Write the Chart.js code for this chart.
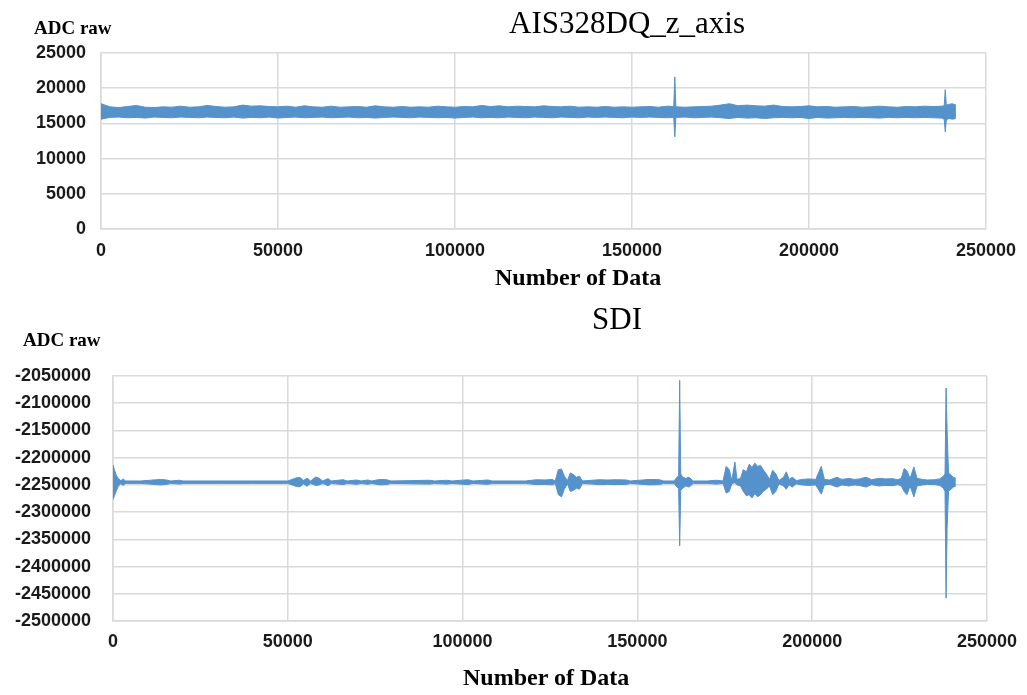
<!DOCTYPE html>
<html>
<head>
<meta charset="utf-8">
<script src="https://cdn.jsdelivr.net/npm/chart.js@4.4.0/dist/chart.umd.min.js"></script>
<style>
  body { margin: 0; background: #fff; width: 1027px; height: 695px; position: relative; overflow: hidden; }
  .box { position: absolute; left: 0; width: 1027px; }
  .t { position: absolute; font-family: "Liberation Serif", "Times New Roman", serif; color: #000; white-space: nowrap; line-height: 1; }
</style>
</head>
<body>
<div class="box" style="top:0;height:300px"><canvas id="accChart"></canvas></div>
<div class="box" style="top:300px;height:395px"><canvas id="sdiChart"></canvas></div>

<div class="t" style="left:34px;top:18px;font-size:19px;font-weight:bold">ADC raw</div>
<div class="t" style="left:627px;top:7px;font-size:31px;transform:translateX(-50%)">AIS328DQ_z_axis</div>
<div class="t" style="left:495px;top:265px;font-size:24px;font-weight:bold">Number of Data</div>

<div class="t" style="left:23px;top:330px;font-size:19px;font-weight:bold">ADC raw</div>
<div class="t" style="left:617px;top:303px;font-size:31px;transform:translateX(-50%)">SDI</div>
<div class="t" style="left:463px;top:665px;font-size:24px;font-weight:bold">Number of Data</div>

<script>
// min / max envelope of each chunk of samples
const accX = [0, 2500, 5000, 7500, 10000, 12500, 15000, 17500, 20000, 22500, 25000, 27500, 30000, 32500, 35000, 37500,
  40000, 42500, 45000, 47500, 50000, 52500, 55000, 57500, 60000, 62500, 65000, 67500, 70000, 72500, 75000, 77500,
  80000, 82500, 85000, 87500, 90000, 92500, 95000, 97500, 100000, 102500, 105000, 107500, 110000, 112500, 115000, 117500,
  120000, 122500, 125000, 127500, 130000, 132500, 135000, 137500, 140000, 142500, 145000, 147500, 150000, 152500, 155000, 157500,
  160000, 161800, 162100, 162400, 165000, 167500, 170000, 172500, 175000, 177500, 180000, 182500, 185000, 187500, 190000, 192500,
  195000, 197500, 200000, 202500, 205000, 207500, 210000, 212500, 215000, 217500, 220000, 222500, 225000, 227500, 230000, 232500,
  235000, 237500, 238200, 238500, 238800, 239500, 240500, 241500]
const accMax = [17800, 17350, 17250, 17400, 17550, 17300, 17250, 17350, 17300, 17450, 17300, 17350, 17550, 17400, 17300, 17350,
  17600, 17450, 17500, 17400, 17350, 17450, 17300, 17500, 17350, 17300, 17450, 17300, 17350, 17400, 17300, 17500,
  17350, 17300, 17400, 17300, 17350, 17300, 17450, 17350, 17300, 17400, 17350, 17550, 17400, 17500, 17350, 17450,
  17400, 17350, 17500, 17400, 17350, 17450, 17300, 17350, 17300, 17400, 17300, 17350, 17300, 17350, 17400, 17300,
  17450, 17400, 21600, 17350, 17300, 17350, 17400, 17450, 17600, 17800, 17500, 17600, 17500, 17450, 17600, 17400,
  17350, 17400, 17500, 17350, 17400, 17300, 17350, 17400, 17300, 17350, 17450, 17350, 17300, 17400, 17350, 17450,
  17400, 17450, 17500, 19800, 17600, 17700, 17800, 17600]
const accMin = [15600, 15850, 15900, 15800, 15850, 15750, 15900, 15850, 15800, 15900, 15850, 15800, 15900, 15850, 15800, 15900,
  15750, 15850, 15800, 15900, 15750, 15850, 15900, 15800, 15850, 15900, 15800, 15850, 15900, 15800, 15850, 15750,
  15850, 15900, 15850, 15800, 15900, 15850, 15800, 15850, 15750, 15850, 15900, 15800, 15850, 15800, 15900, 15850,
  15800, 15900, 15850, 15800, 15900, 15850, 15800, 15900, 15850, 15900, 15850, 15800, 15900, 15850, 15900, 15850,
  15800, 15850, 13100, 15850, 15900, 15800, 15850, 15900, 15800, 15700, 15850, 15750, 15800, 15700, 15800, 15850,
  15800, 15850, 15700, 15850, 15750, 15800, 15850, 15800, 15850, 15800, 15750, 15850, 15800, 15850, 15800, 15850,
  15800, 15750, 15600, 13800, 15500, 15700, 15600, 15700]

const sdiX = [0, 400, 900, 1500, 2200, 2900, 3600, 8000, 12500, 13500, 15400, 16500, 19100, 20000, 30000, 40000,
  50000, 52500, 53500, 54500, 55500, 56500, 58000, 59000, 60000, 61500, 62500, 65800, 67000, 69700, 71000, 72900,
  74000, 76300, 78300, 79500, 90600, 92000, 95400, 97000, 101500, 103000, 107200, 108500, 118000, 121100, 123500, 125700,
  126500, 127400, 128300, 129100, 130000, 130800, 131700, 132600, 133400, 134300, 139100, 141500, 144000, 146900, 148000, 153400,
  156300, 157500, 160500, 161300, 161800, 162100, 162400, 163000, 163800, 164800, 166000, 170000, 172500, 174500, 175400, 176300,
  177000, 177900, 178500, 179500, 180300, 181200, 182000, 182800, 183600, 184400, 185200, 186000, 186900, 187800, 188700, 189600,
  190500, 191800, 192600, 193400, 194300, 195500, 197000, 199000, 201000, 202600, 203500, 205000, 207100, 208500, 210500, 212000,
  213500, 215400, 217000, 219100, 221000, 223000, 224500, 225500, 226300, 227100, 228000, 229100, 230000, 231500, 233000, 235000,
  236500, 237500, 238000, 238300, 238600, 239000, 239700, 240400, 241100]
const sdiMax = [-2213000, -2222000, -2232000, -2238000, -2242500, -2239000, -2242800, -2242800, -2240500, -2240000, -2241000, -2242800, -2241500, -2242800, -2242800, -2242800,
  -2242800, -2237000, -2236500, -2242000, -2237500, -2242800, -2235500, -2238000, -2242800, -2238500, -2242800, -2240500, -2242800, -2241000, -2242800, -2241000,
  -2242800, -2240000, -2240500, -2242800, -2241500, -2242800, -2241500, -2242800, -2240500, -2242800, -2241000, -2242800, -2242800, -2240500, -2241000, -2240000,
  -2242800, -2222000, -2221000, -2234000, -2242000, -2228000, -2231000, -2236000, -2234000, -2242800, -2240500, -2241000, -2240500, -2241000, -2242800, -2240000,
  -2240500, -2242800, -2242800, -2236000, -2233000, -2058000, -2230000, -2236000, -2238000, -2236000, -2242800, -2242800, -2241500, -2242800, -2216000, -2222000,
  -2242000, -2208000, -2240000, -2238000, -2222000, -2226000, -2212000, -2218000, -2210000, -2216000, -2214000, -2222000, -2230000, -2240000, -2223000, -2230000,
  -2242000, -2236000, -2226000, -2240000, -2236000, -2242000, -2240000, -2239000, -2240000, -2216000, -2240000, -2241000, -2236000, -2240000, -2238000, -2240000,
  -2239000, -2236000, -2240500, -2238000, -2239000, -2238500, -2240500, -2238000, -2220000, -2224000, -2238000, -2217000, -2238000, -2240000, -2241000, -2240500,
  -2239000, -2234000, -2230000, -2072000, -2150000, -2228000, -2232000, -2236000, -2238000]
const sdiMin = [-2277000, -2270000, -2262000, -2253000, -2247500, -2251000, -2247200, -2247200, -2249500, -2250000, -2249000, -2247200, -2248500, -2247200, -2247200, -2247200,
  -2247200, -2253000, -2253500, -2248000, -2252500, -2247200, -2251000, -2250000, -2247200, -2251500, -2247200, -2249500, -2247200, -2249000, -2247200, -2249000,
  -2247200, -2250000, -2249500, -2247200, -2248500, -2247200, -2248500, -2247200, -2249500, -2247200, -2249000, -2247200, -2247200, -2249500, -2249000, -2250000,
  -2247200, -2268000, -2272000, -2258000, -2248000, -2262000, -2260000, -2256000, -2258000, -2247200, -2249500, -2249000, -2249500, -2249000, -2247200, -2250000,
  -2249500, -2247200, -2247200, -2254000, -2257000, -2362000, -2260000, -2256000, -2252000, -2254000, -2247200, -2247200, -2248500, -2247200, -2265000, -2262000,
  -2248000, -2246000, -2250000, -2252000, -2262000, -2270000, -2268000, -2274000, -2266000, -2272000, -2268000, -2262000, -2258000, -2252000, -2268000, -2262000,
  -2248000, -2252000, -2258000, -2250000, -2254000, -2248000, -2250000, -2251000, -2250000, -2267000, -2250000, -2249000, -2254000, -2250000, -2252000, -2250000,
  -2251000, -2254000, -2249500, -2252000, -2251000, -2251500, -2249500, -2252000, -2262000, -2268000, -2252000, -2272000, -2252000, -2250000, -2249000, -2249500,
  -2251000, -2256000, -2262000, -2458000, -2330000, -2262000, -2258000, -2254000, -2252000]

const blue = '#5592cb'
const gridColor = '#dadada'
const tickFont = { family: '"Liberation Sans", Arial, sans-serif', size: 18, weight: 'bold' }

const pts = (xs, ys) => xs.map((x, i) => ({ x: x, y: ys[i] }))

const band = (xs, hi, lo) => [
  { data: pts(xs, hi), borderColor: blue, backgroundColor: blue, borderWidth: 1, pointRadius: 0, tension: 0, fill: '+1' },
  { data: pts(xs, lo), borderColor: blue, backgroundColor: blue, borderWidth: 1, pointRadius: 0, tension: 0, fill: false }
]

const makeChart = (id, datasets, yMin, yMax, yStep, box) => {
  return new Chart(document.getElementById(id), {
    type: 'line',
    data: { datasets: datasets },
    options: {
      responsive: true,
      maintainAspectRatio: false,
      animation: false,
      layout: { padding: { top: box.top, right: box.right, bottom: 0, left: 0 } },
      plugins: { legend: { display: false }, tooltip: { enabled: false } },
      scales: {
        x: {
          type: 'linear', min: 0, max: 250000,
          grid: { color: gridColor, lineWidth: 1.5, drawTicks: false },
          border: { color: gridColor, width: 1.5 },
          ticks: { stepSize: 50000, font: tickFont, color: '#1a1a1a', padding: box.xPad, maxRotation: 0, autoSkip: false,
            callback: v => String(v) },
          afterFit: s => { s.height = box.xHeight }
        },
        y: {
          type: 'linear', min: yMin, max: yMax,
          grid: { color: gridColor, lineWidth: 1.5, drawTicks: false },
          border: { color: gridColor, width: 1.5 },
          ticks: { stepSize: yStep, font: tickFont, color: '#1a1a1a', padding: box.yPad,
            callback: v => String(v) },
          afterFit: s => { s.width = box.left }
        }
      }
    }
  })
}

makeChart('accChart', band(accX, accMax, accMin), 0, 25000, 5000,
  { top: 53, right: 38, left: 101, xHeight: 71, xPad: 11, yPad: 15 })
makeChart('sdiChart', band(sdiX, sdiMax, sdiMin), -2500000, -2050000, 50000,
  { top: 76, right: 39, left: 113, xHeight: 74, xPad: 10, yPad: 22 })
</script>
</body>
</html>
